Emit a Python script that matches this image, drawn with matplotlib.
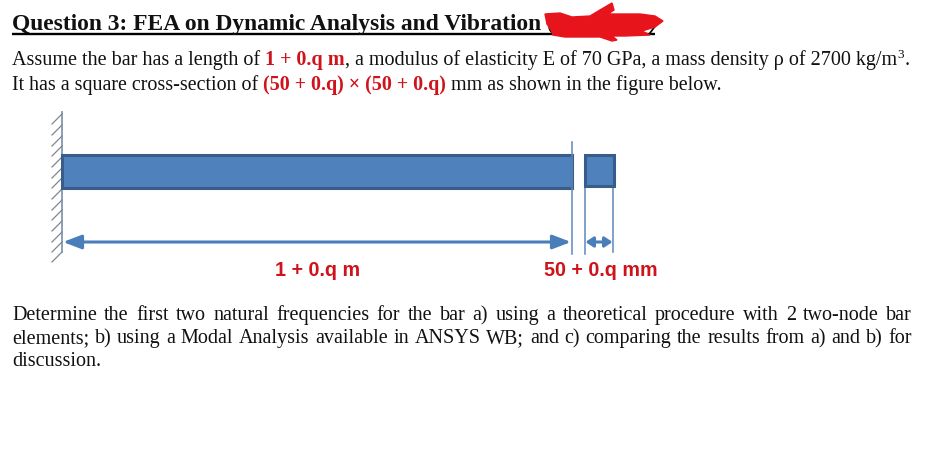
import matplotlib
matplotlib.use('Agg')
import matplotlib.pyplot as plt
from matplotlib.patches import Rectangle, Polygon

SERIF = 'Liberation Serif'
SANS = 'Liberation Sans'
RED = '#d0121b'
BLACK = '#111111'
BODY_SIZE = 14.47

# text lines, as (text, colour, weight) runs
title_text = 'Question 3: FEA on Dynamic Analysis and Vibration ('
line_1 = [('Assume the bar has a length of ', BLACK, 'normal'),
          ('1 + 0.q m', RED, 'bold'),
          (', a modulus of elasticity E of 70 GPa, a mass density \u03c1 of 2700 kg/m', BLACK, 'normal')]
line_2 = [('It has a square cross-section of ', BLACK, 'normal'),
          ('(50 + 0.q) \u00d7 (50 + 0.q)', RED, 'bold'),
          (' mm as shown in the figure below.', BLACK, 'normal')]
para_lines = ['Determine the first two natural frequencies for the bar a) using a theoretical procedure with 2 two-node bar',
              'elements; b) using a Modal Analysis available in ANSYS WB; and c) comparing the results from a) and b) for',
              'discussion.']
length_label = '1 + 0.q m'
width_label = '50 + 0.q mm'

# figure geometry in image pixels
wall_x = 62
wall_top = 112
wall_bottom = 252
hatch_ys = [114, 125, 136, 146, 157, 168, 178, 189, 200, 210, 221, 232, 242, 252]
bar_x = [62, 572]
bar_y = [155, 188]
section_x = [585, 613.5]
section_y = [155, 186]
dim_y = 242

# the red scribble over the end of the title
scribble_x = [545, 560, 572, 590, 600, 612, 614, 608, 625, 640, 655, 663, 655, 642, 650, 625, 612, 617, 612, 600, 585, 565, 553, 551, 547]
scribble_y = [14, 13, 17, 16, 10, 3, 10, 14, 14, 14, 16, 21, 27, 31, 35, 36, 36, 40, 41, 37, 37, 37, 35, 30, 24]

fig = plt.figure(figsize=(9.42, 4.7), dpi=100)
ax = fig.add_axes([0, 0, 1, 1])
ax.set_xlim(0, 942)
ax.set_ylim(470, 0)
ax.axis('off')
renderer = fig.canvas.get_renderer()


def text_width(s, **kw):
    # bars on both sides so that spaces at the ends are counted
    t1 = ax.text(0, 0, '|' + s + '|', **kw)
    t2 = ax.text(0, 0, '||', **kw)
    w = t1.get_window_extent(renderer).width - t2.get_window_extent(renderer).width
    t1.remove()
    t2.remove()
    return w


def draw_runs(x, y, runs, size=BODY_SIZE):
    for s, colour, weight in runs:
        kw = dict(family=SERIF, fontsize=size, fontweight=weight)
        ax.text(x, y, s, color=colour, va='baseline', ha='left', **kw)
        x += text_width(s, **kw)
    return x


def draw_justified(x0, x1, y, line, size=BODY_SIZE):
    kw = dict(family=SERIF, fontsize=size)
    words = line.split(' ')
    widths = [text_width(w, **kw) for w in words]
    gap = (x1 - x0 - sum(widths)) / (len(words) - 1)
    x = x0
    for w, wid in zip(words, widths):
        ax.text(x, y, w, color=BLACK, va='baseline', ha='left', **kw)
        x += wid + gap


# heading
draw_runs(12, 30, [(title_text, BLACK, 'bold')], size=16.9)
ax.plot([12, 655], [34, 34], color='black', lw=1.7, solid_capstyle='butt')
ax.plot([650, 656], [33, 25], color='black', lw=1.2)
ax.add_patch(Polygon(list(zip(scribble_x, scribble_y)), closed=True, fc='#e8141c', ec='#e8141c', lw=1, zorder=5))

# intro lines
x_end = draw_runs(12, 65, line_1)
ax.text(x_end + 1, 58, '3', color=BLACK, family=SERIF, fontsize=9.5, va='baseline')
ax.text(x_end + 8, 65, '.', color=BLACK, family=SERIF, fontsize=BODY_SIZE, va='baseline')
draw_runs(12, 90, line_2, size=14.38)

# wall
ax.plot([wall_x, wall_x], [wall_top, wall_bottom], color='#7f98b0', lw=1.3)
for y in hatch_ys:
    ax.plot([wall_x, wall_x - 10], [y, y + 10], color='#7d8790', lw=0.9)

# bar and its cross-section
ax.add_patch(Rectangle((bar_x[0], bar_y[0]), bar_x[1] - bar_x[0], bar_y[1] - bar_y[0],
                       fc='#4f81bd', ec='#385d8a', lw=2.2, zorder=3))
ax.add_patch(Rectangle((section_x[0], section_y[0]), section_x[1] - section_x[0], section_y[1] - section_y[0],
                       fc='#4f81bd', ec='#385d8a', lw=2.2, zorder=3))

# extension lines
ax.plot([572, 572], [142, 254], color='#5f88b8', lw=1.1, zorder=4)
ax.plot([584.5, 584.5], [186, 254], color='#5f88b8', lw=1.1)
ax.plot([613, 613], [186, 252], color='#5f88b8', lw=1.1)

# dimension arrows
ax.annotate('', xy=(63, dim_y), xytext=(571, dim_y),
            arrowprops=dict(arrowstyle='<|-|>,head_length=1.1,head_width=0.42', color='#4a7ebb', lw=2.2,
                            shrinkA=0, shrinkB=0))
ax.annotate('', xy=(585.5, dim_y), xytext=(612.5, dim_y),
            arrowprops=dict(arrowstyle='<|-|>,head_length=0.45,head_width=0.3', color='#4a7ebb', lw=2.2,
                            shrinkA=0, shrinkB=0))

# dimension labels
ax.text(318, 276, length_label, color=RED, family=SANS, fontsize=14.2, fontweight='bold', ha='center', va='baseline')
ax.text(601, 276, width_label, color=RED, family=SANS, fontsize=14.2, fontweight='bold', ha='center', va='baseline')

# closing paragraph
draw_justified(12, 912, 320, para_lines[0])
draw_justified(12, 912, 343, para_lines[1])
draw_runs(12, 366, [(para_lines[2], BLACK, 'normal')])

fig.savefig('out.png', dpi=100, facecolor='white')
